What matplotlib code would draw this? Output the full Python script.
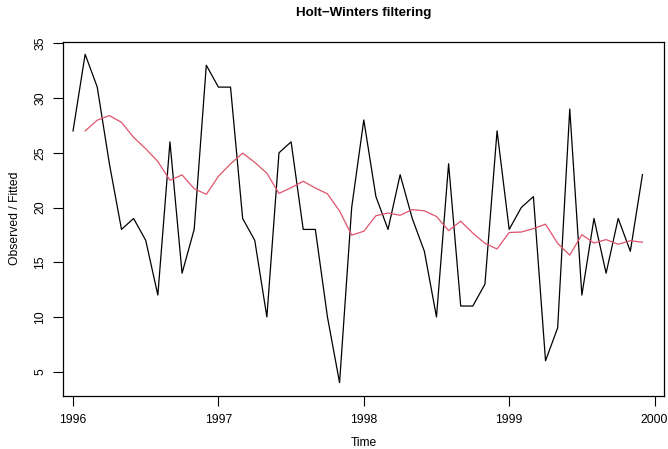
import numpy as np
import matplotlib
matplotlib.use("Agg")
import matplotlib.pyplot as plt

plt.rcParams["font.family"] = ["Liberation Sans", "DejaVu Sans"]

# monthly series, Jan 1996 - Dec 1999
start_year = 1996
observed = [27, 34, 31, 24, 18, 19, 17, 12, 26, 14, 18, 33,
            31, 31, 19, 17, 10, 25, 26, 18, 18, 10, 4, 20,
            28, 21, 18, 23, 19, 16, 10, 24, 11, 11, 13, 27,
            18, 20, 21, 6, 9, 29, 12, 19, 14, 19, 16, 23]
# fitted level, starts one month later
fitted = [27.00, 27.98, 28.40, 27.78, 26.41, 25.37, 24.20, 22.49, 22.98, 21.72, 21.20,
          22.85, 23.99, 24.97, 24.13, 23.13, 21.29, 21.81, 22.40, 21.78, 21.25, 19.68, 17.48,
          17.83, 19.25, 19.50, 19.29, 19.81, 19.70, 19.18, 17.89, 18.75, 17.66, 16.73, 16.21,
          17.72, 17.76, 18.07, 18.48, 16.73, 15.65, 17.52, 16.75, 17.07, 16.64, 16.97, 16.83]
x_ticks = [1996, 1997, 1998, 1999, 2000]
y_ticks = [5, 10, 15, 20, 25, 30, 35]

t_obs = start_year + np.arange(len(observed)) / 12
t_fit = start_year + (np.arange(len(fitted)) + 1) / 12

W, H = 668, 449
fig = plt.figure(figsize=(W / 100, H / 100), dpi=100)
ax = fig.add_axes([63 / W, 1 - 396 / H, (664.3 - 63) / W, (396 - 41.7) / H])

ax.plot(t_obs, observed, color="black", lw=0.9)
ax.plot(t_fit, fitted, color="#DF536B", lw=0.9)

ax.set_xlim(1995.931, 2000.067)
ax.set_ylim(2.78, 35.15)
ax.set_xticks(x_ticks)
ax.set_yticks(y_ticks)
ax.set_yticklabels([str(v) for v in y_ticks], rotation=90, va="center")
ax.tick_params(axis="both", labelsize=8.7, length=7, width=0.8, direction="out")
ax.tick_params(axis="x", pad=6)
ax.tick_params(axis="y", pad=5)
for s in ax.spines.values():
    s.set_linewidth(0.9)

# axis titles and main title placed in figure pixels
fig.text((63 + 664.3) / 2 / W, 1 - 443 / H, "Time", ha="center", va="center", fontsize=8.7)
fig.text(15 / W, 1 - 218 / H, "Observed / Fitted", ha="center", va="center",
         rotation=90, fontsize=8.7)
fig.text((63 + 664.3) / 2 / W, 1 - 13 / H, "Holt\u2212Winters filtering",
         ha="center", va="center", fontsize=9.6, fontweight="bold")

fig.savefig("out.png", dpi=100)
